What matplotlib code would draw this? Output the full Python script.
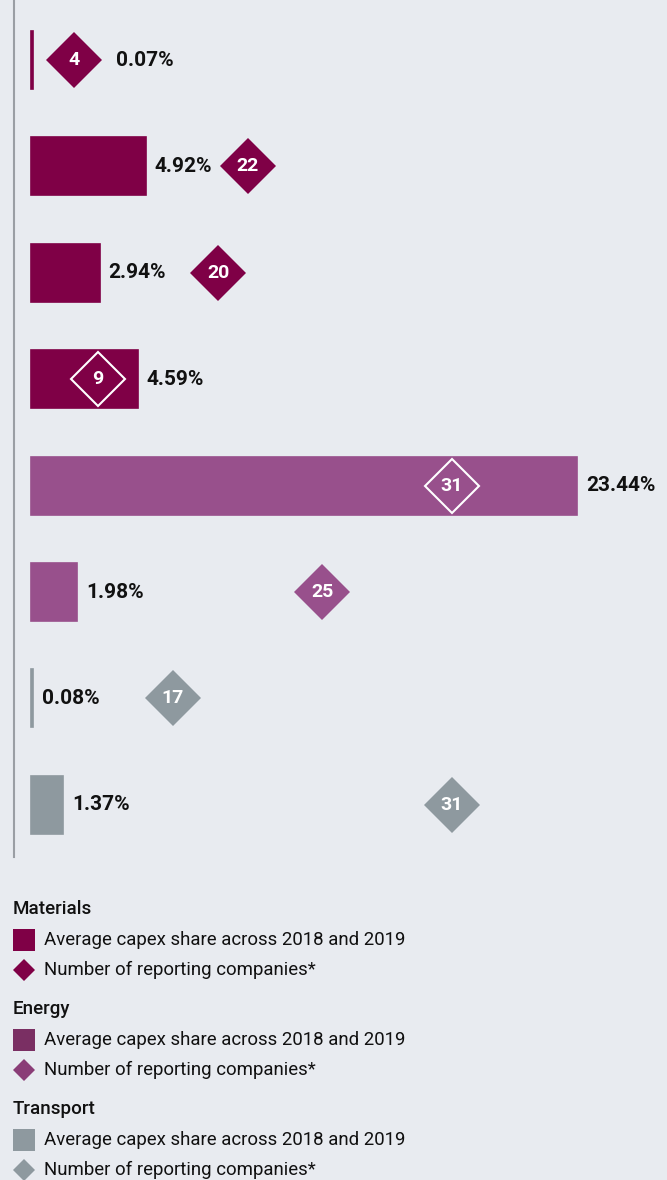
import matplotlib
matplotlib.use("Agg")
import matplotlib.pyplot as plt
from matplotlib.patches import Rectangle

plt.rcParams["font.family"] = ["Roboto", "DejaVu Sans"]

# ---- data ----
sectors = ["Materials", "Materials", "Materials", "Materials",
           "Energy", "Energy", "Transport", "Transport"]
capex_share = [0.07, 4.92, 2.94, 4.59, 23.44, 1.98, 0.08, 1.37]
n_companies = [4, 22, 20, 9, 31, 25, 17, 31]
# where each diamond sits along the bar axis (in % units, as in the original layout)
diamond_pos = [1.85, 9.31, 8.03, 2.88, 18.07, 12.49, 6.09, 18.07]

legend_groups = ["Materials", "Energy", "Transport"]
legend_bar_label = "Average capex share across 2018 and 2019"
legend_dia_label = "Number of reporting companies*"

bar_colors = {"Materials": "#7f0046", "Energy": "#98508c", "Transport": "#8e999f"}
legend_bar_colors = {"Materials": "#7f0046", "Energy": "#7a2f63", "Transport": "#8e999f"}
legend_dia_colors = {"Materials": "#7f0046", "Energy": "#8a3d77", "Transport": "#8e999f"}
bg = "#e8ebf0"

W, H = 667, 1180
fig = plt.figure(figsize=(W / 100, H / 100), dpi=100, facecolor=bg)

# ---- main chart ----
px_per_pct = 23.3
x0_px, axis_px = 31, 14
row_px, row0_px, chart_bottom = 106.4, 60, 857
ax = fig.add_axes([axis_px / W, 1 - chart_bottom / H, (W - axis_px) / W, chart_bottom / H])
ax.set_facecolor(bg)
ax.set_xlim(-(x0_px - axis_px) / px_per_pct, (W - x0_px) / px_per_pct)
ax.set_ylim((chart_bottom - row0_px) / row_px, -row0_px / row_px)
for s in ["top", "right", "bottom"]:
    ax.spines[s].set_visible(False)
ax.spines["left"].set_color("#9a9ea4")
ax.spines["left"].set_linewidth(1.5)
ax.set_xticks([]); ax.set_yticks([])

pct_per_px = 1 / px_per_pct
dia_half = 28 * pct_per_px
for i, (sec, v, n, dp) in enumerate(zip(sectors, capex_share, n_companies, diamond_pos)):
    c = bar_colors[sec]
    ax.barh(i, v, height=0.545, color=c, edgecolor=c, linewidth=1.2)
    inside = dp < v
    if inside:
        ax.plot(dp, i, marker="D", markersize=28, markerfacecolor="none",
                markeredgecolor="white", markeredgewidth=1.5)
    else:
        ax.plot(dp, i, marker="D", markersize=29, color=c, markeredgewidth=0)
    ax.text(dp, i, str(n), color="white", fontsize=14, fontweight="bold",
            ha="center", va="center")
    # value label after the bar, or after the diamond if they would collide
    lx = v + 9 * pct_per_px
    if not inside and dp > v and dp - dia_half < lx + 10 * pct_per_px:
        lx = dp + dia_half + 14 * pct_per_px
    ax.text(lx, i, f"{v:.2f}%", color="#111111", fontsize=15, fontweight="bold",
            ha="left", va="center")

# ---- legend ----
lax = fig.add_axes([0, 0, 1, 1], facecolor="none")
lax.set_xlim(0, W); lax.set_ylim(H, 0)
lax.axis("off")
y = 909
for g in legend_groups:
    lax.text(13, y, g, fontsize=13.5, fontweight="medium", color="#111111", va="center")
    y += 31
    lax.add_patch(Rectangle((13, y - 11), 22, 22, color=legend_bar_colors[g], lw=0))
    lax.text(44, y, legend_bar_label, fontsize=13.4, color="#111111", va="center")
    y += 30
    lax.plot(24, y, marker="D", markersize=11.5, color=legend_dia_colors[g], markeredgewidth=0)
    lax.text(44, y, legend_dia_label, fontsize=13.4, color="#111111", va="center")
    y += 39

fig.savefig("out.png", dpi=100, facecolor=bg)
